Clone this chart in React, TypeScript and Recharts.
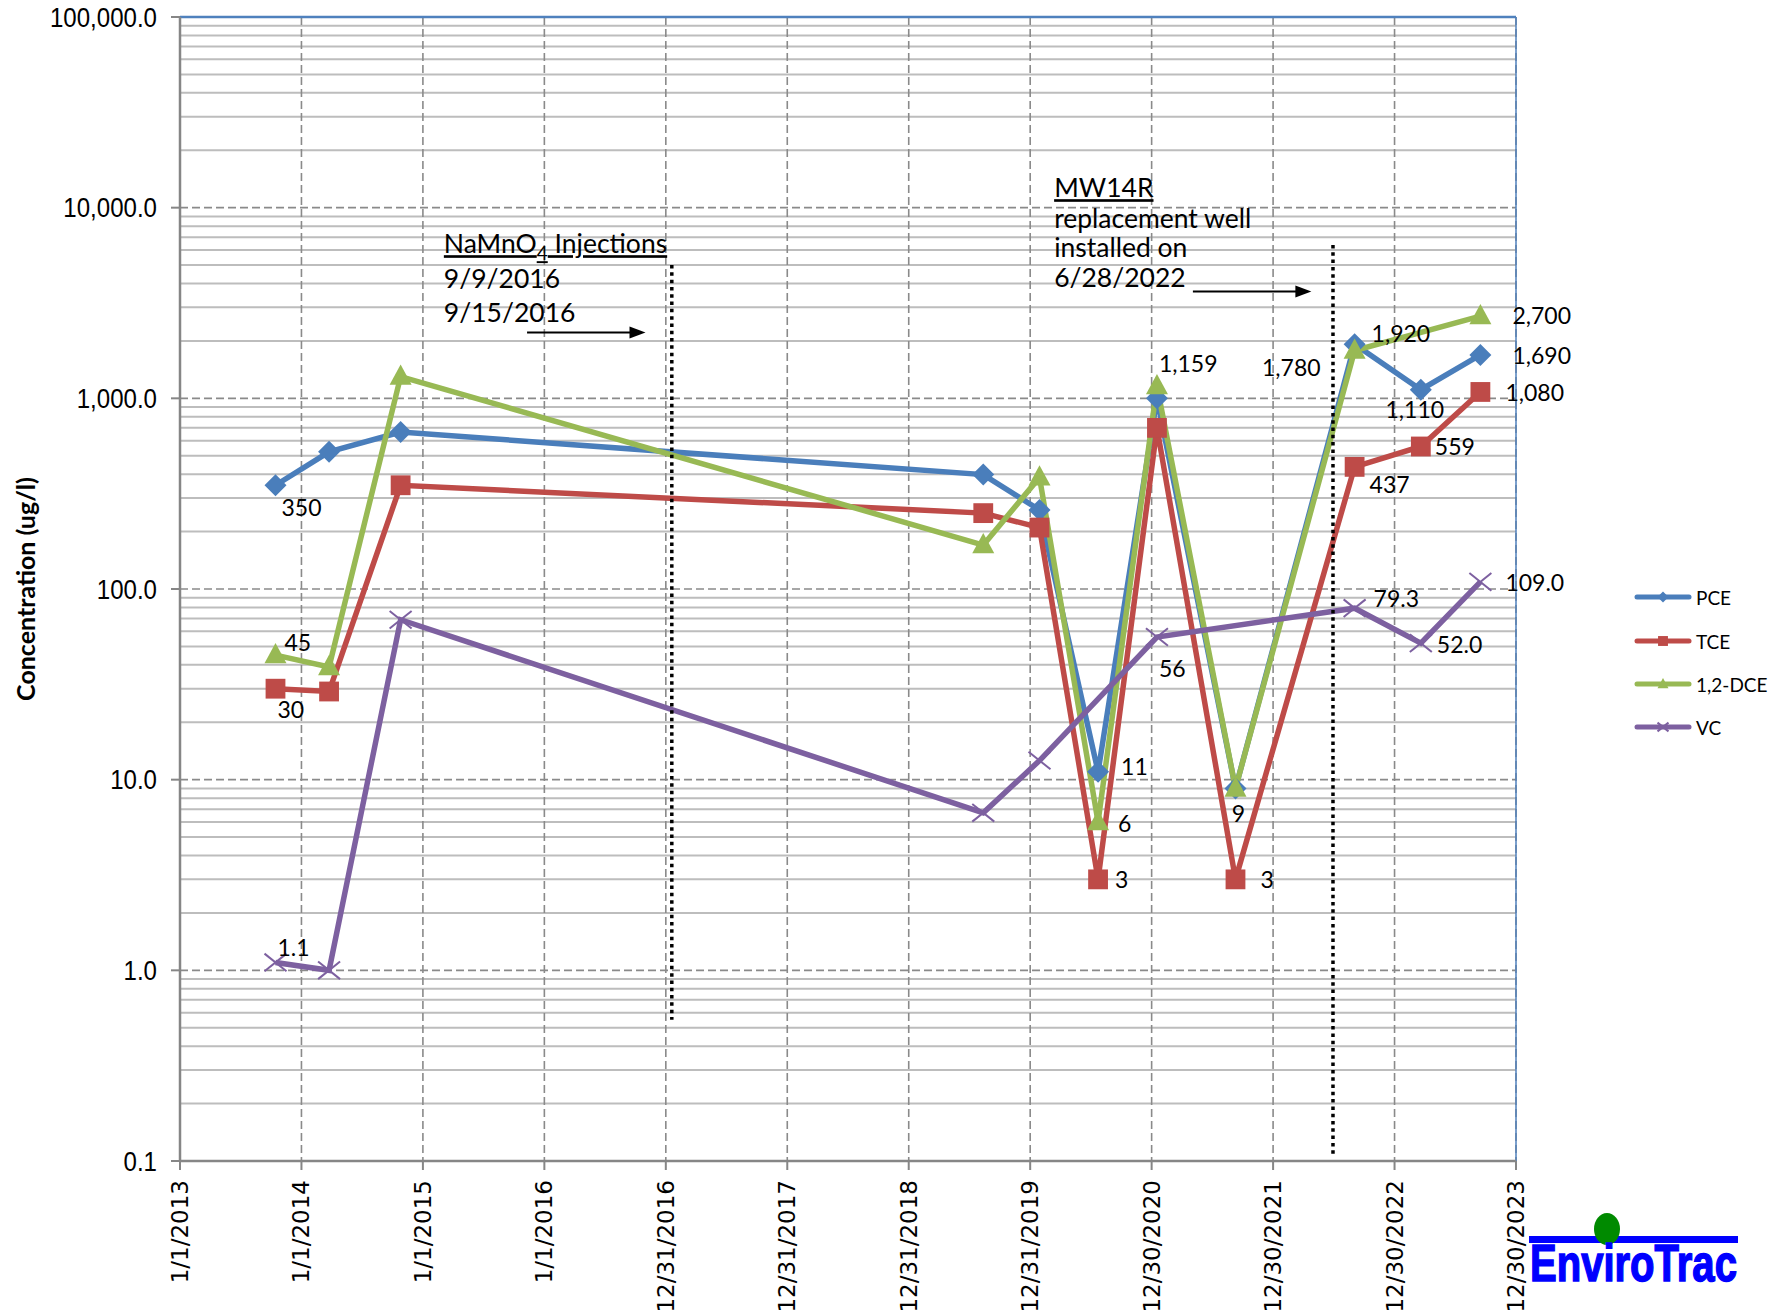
import React from 'react';
import {
  LineChart,
  Line,
  XAxis,
  YAxis,
  CartesianGrid,
  ReferenceLine,
  ReferenceDot,
  LabelList,
} from 'recharts';

// sample dates (M/D/YYYY)
const sampleDates = [
  '10/15/2013', '3/25/2014', '10/26/2014', '8/12/2019', '1/28/2020', '7/22/2020',
  '1/15/2021', '9/8/2021', '9/1/2022', '3/19/2023', '9/14/2023',
];

const pceValues = [350, 524, 665, 398, 260, 11, 1000, 9, 1920, 1110, 1690];
const tceValues = [30, 29, 350, 250, 210, 3, 700, 3, 437, 559, 1080];
const dceValues = [45, 39, 1300, 170, 385, 6, 1159, 9, 1780, null, 2700];
const vcValues = [1.1, 1.0, 69, 6.7, 12.6, null, 56, null, 79.3, 52.0, 109.0];

const pceLabels = ['350', null, null, null, null, '11', null, null, '1,920', '1,110', '1,690'];
const tceLabels = ['30', null, null, null, null, '3', null, '3', '437', '559', '1,080'];
const dceLabels = ['45', null, null, null, null, '6', '1,159', '9', '1,780', null, '2,700'];
const vcLabels = ['1.1', null, null, null, null, null, '56', null, '79.3', '52.0', '109.0'];

const xTickLabels = [
  '1/1/2013', '1/1/2014', '1/1/2015', '1/1/2016', '12/31/2016', '12/31/2017',
  '12/31/2018', '12/31/2019', '12/30/2020', '12/30/2021', '12/30/2022', '12/30/2023',
];
const yTickValues = [0.1, 1, 10, 100, 1000, 10000, 100000];

// label placement per point: [anchor, dx, dy] in px
type Off = [string, number, number] | null;
const pceLabelPos: Off[] = [['start', 6, 22], null, null, null, null, ['start', 23, -6], null, null, ['start', 17, -11], ['middle', -6, 19], ['start', 32, 0]];
const tceLabelPos: Off[] = [['start', 2, 20], null, null, null, null, ['start', 17, 0], null, ['start', 25, 0], ['start', 15, 17], ['start', 14, 0], ['start', 25, 0]];
const dceLabelPos: Off[] = [['start', 9, -13], null, null, null, null, ['start', 20, 1], ['start', 2, -23], ['middle', 3, 25], ['end', -34, 16], null, ['start', 32, -1]];
const vcLabelPos: Off[] = [['start', 2, -15], null, null, null, null, null, ['start', 2, 31], null, ['start', 19, -10], ['start', 16, 1], ['start', 25, 0]];

const ORIGIN = Date.UTC(2013, 0, 1);
const toDay = (s: string) => {
  const [m, d, y] = s.split('/').map(Number);
  return (Date.UTC(y, m - 1, d) - ORIGIN) / 86400000;
};

const xTicks = xTickLabels.map(toDay);
const sampleDays = sampleDates.map(toDay);
const xMax = xTicks[xTicks.length - 1];
const minorXTicks: number[] = [];
for (let i = 0; i <= xMax; i += 73) minorXTicks.push(i);

const minorYValues: number[] = [];
for (let d = -1; d <= 4; d++) {
  for (let k = 2; k <= 9; k++) minorYValues.push(Number((k * Math.pow(10, d)).toPrecision(3)));
}

const buildSeries = (values: (number | null)[], labels: (string | null)[], pos: Off[]) =>
  sampleDays
    .map((x, i) => ({ x, y: values[i], label: labels[i], pos: pos[i] }))
    .filter((p) => p.y != null);

const series = [
  { name: 'PCE', color: '#4a7ebb', marker: 'diamond', data: buildSeries(pceValues, pceLabels, pceLabelPos) },
  { name: 'TCE', color: '#be4b48', marker: 'square', data: buildSeries(tceValues, tceLabels, tceLabelPos) },
  { name: '1,2-DCE', color: '#98b954', marker: 'triangle', data: buildSeries(dceValues, dceLabels, dceLabelPos) },
  { name: 'VC', color: '#7d60a0', marker: 'x', data: buildSeries(vcValues, vcLabels, vcLabelPos) },
];

const fmtY = (v: number) =>
  v.toLocaleString('en-US', { minimumFractionDigits: 1, maximumFractionDigits: 1 });

function Marker({ kind, cx, cy, color, s }: any) {
  if (kind === 'diamond') {
    return <polygon points={`${cx},${cy - s} ${cx + s},${cy} ${cx},${cy + s} ${cx - s},${cy}`} fill={color} />;
  }
  if (kind === 'square') {
    return <rect x={cx - s * 0.9} y={cy - s * 0.9} width={s * 1.8} height={s * 1.8} fill={color} />;
  }
  if (kind === 'triangle') {
    return <polygon points={`${cx},${cy - s * 1.1} ${cx + s},${cy + s * 0.75} ${cx - s},${cy + s * 0.75}`} fill={color} />;
  }
  return (
    <g stroke={color} strokeWidth={2}>
      <line x1={cx - s} y1={cy - s * 0.8} x2={cx + s} y2={cy + s * 0.8} />
      <line x1={cx - s} y1={cy + s * 0.8} x2={cx + s} y2={cy - s * 0.8} />
    </g>
  );
}

function XTick(props: any) {
  const { x, y, payload } = props;
  const i = xTicks.indexOf(payload.value);
  return (
    <text
      transform={`translate(${x},${y + 8}) rotate(-90)`}
      textAnchor="end"
      dominantBaseline="central"
      fontFamily="'DejaVu Sans'"
      fontSize={23}
      fill="#000"
    >
      {xTickLabels[i]}
    </text>
  );
}

function YTick(props: any) {
  const { x, y, payload } = props;
  return (
    <text
      transform={`translate(${x - 12},${y}) scale(0.86,1)`}
      textAnchor="end"
      dominantBaseline="central"
      fontFamily="'Liberation Sans Narrow', 'Liberation Sans'"
      fontSize={28}
      fill="#000"
    >
      {fmtY(payload.value)}
    </text>
  );
}

const makeLabel = (data: any[]) => (props: any) => {
  const p = data[props.index];
  if (!p || !p.label || !p.pos) return null;
  const vb = props.viewBox || {};
  const px = props.x ?? vb.x;
  const py = props.y ?? vb.y;
  const [anchor, dx, dy] = p.pos;
  return (
    <text
      x={px + dx}
      y={py + dy}
      textAnchor={anchor}
      dominantBaseline="central"
      fontFamily="Lato"
      fontSize={23}
      fill="#000"
    >
      {p.label}
    </text>
  );
};

function Arrow(props: any) {
  const { x1, y1, x2, y2 } = props;
  return (
    <g>
      <line x1={x1} y1={y1} x2={x2 - 14} y2={y2} stroke="#000" strokeWidth={2} />
      <polygon points={`${x2},${y2} ${x2 - 16},${y2 - 6} ${x2 - 16},${y2 + 6}`} fill="#000" />
    </g>
  );
}

const annoFont = { fontFamily: 'Lato', fontSize: 26.5, fill: '#000' };

function InjectionNote({ cx, cy }: any) {
  return (
    <g>
      <text x={cx} y={cy} {...annoFont} textDecoration="underline">
        NaMnO
        <tspan dy={7} fontSize={19}>4</tspan>
        <tspan dy={-7}> Injections</tspan>
      </text>
      <text x={cx} y={cy + 35} {...annoFont}>9/9/2016</text>
      <text x={cx} y={cy + 69} {...annoFont}>9/15/2016</text>
    </g>
  );
}

function WellNote({ cx, cy }: any) {
  return (
    <g>
      <text x={cx} y={cy} {...annoFont} textDecoration="underline">MW14R</text>
      <text x={cx} y={cy + 31} {...annoFont}>replacement well</text>
      <text x={cx} y={cy + 60} {...annoFont}>installed on</text>
      <text x={cx} y={cy + 90} {...annoFont}>6/28/2022</text>
    </g>
  );
}

const axisColor = '#868686';
const frameColor = '#4f81bd';

export default function App() {
  const legendY = [597, 641, 684, 727];
  return (
    <div style={{ position: 'absolute', left: 0, top: 0, width: 1785, height: 1312, background: '#fff' }}>
      <LineChart
        width={1785}
        height={1312}
        margin={{ top: 17, right: 269, left: 0, bottom: 0 }}
      >
        <CartesianGrid
          horizontalValues={minorYValues}
          vertical={false}
          stroke="#bdbdbd"
          strokeWidth={2}
        />
        <CartesianGrid
          horizontalValues={yTickValues}
          verticalValues={xTicks}
          stroke="#8a8a8a"
          strokeWidth={1.6}
          strokeDasharray="8 4"
        />
        <XAxis
          type="number"
          dataKey="x"
          domain={[0, xMax]}
          ticks={xTicks}
          interval={0}
          height={151}
          tickSize={9}
          axisLine={{ stroke: axisColor, strokeWidth: 2.5 }}
          tickLine={{ stroke: axisColor, strokeWidth: 2 }}
          tick={<XTick />}
          allowDataOverflow
        />
        <XAxis
          xAxisId="minor"
          type="number"
          dataKey="x"
          domain={[0, xMax]}
          ticks={minorXTicks}
          interval={0}
          mirror
          tickSize={6}
          tick={false}
          axisLine={false}
          tickLine={{ stroke: axisColor, strokeWidth: 1.5 }}
          allowDataOverflow
        />
        <YAxis
          type="number"
          scale="log"
          domain={[0.1, 100000]}
          ticks={yTickValues}
          interval={0}
          width={180}
          tickSize={9}
          allowDataOverflow
          axisLine={{ stroke: axisColor, strokeWidth: 2.5 }}
          tickLine={{ stroke: axisColor, strokeWidth: 2 }}
          tick={<YTick />}
          label={{
            content: (p: any) => {
              const vb = p.viewBox || { x: 0, y: 17, height: 1144 };
              const cx = vb.x + 25;
              const cy = vb.y + vb.height / 2;
              return (
                <text
                  transform={`translate(${cx},${cy}) rotate(-90)`}
                  textAnchor="middle"
                  dominantBaseline="central"
                  fontFamily="Lato"
                  fontWeight={700}
                  fontSize={25}
                  fill="#000"
                >
                  Concentration (ug/l)
                </text>
              );
            },
          }}
        />
        <ReferenceLine y={100000} stroke={frameColor} strokeWidth={2.5} />
        <ReferenceLine x={xMax} stroke={frameColor} strokeWidth={1.5} />

        {series.map((s) => (
          <Line
            key={s.name}
            name={s.name}
            data={s.data}
            dataKey="y"
            type="linear"
            stroke={s.color}
            strokeWidth={5.5}
            isAnimationActive={false}
            activeDot={false}
            dot={(p: any) =>
              p.cx == null || p.cy == null ? (
                <g key={`${s.name}-${p.index}`} />
              ) : (
                <Marker key={`${s.name}-${p.index}`} kind={s.marker} cx={p.cx} cy={p.cy} color={s.color} s={11} />
              )
            }
          >
            <LabelList dataKey="label" content={makeLabel(s.data)} />
          </Line>
        ))}

        <ReferenceLine
          segment={[{ x: 1478, y: 5000 }, { x: 1478, y: 0.55 }]}
          stroke="#000"
          strokeWidth={3.5}
          strokeDasharray="3.5 3.8"
        />
        <ReferenceLine
          segment={[{ x: 3465, y: 6370 }, { x: 3465, y: 0.107 }]}
          stroke="#000"
          strokeWidth={3.5}
          strokeDasharray="3.5 3.8"
        />
        <ReferenceLine segment={[{ x: 1043, y: 2213 }, { x: 1399, y: 2213 }]} shape={Arrow} />
        <ReferenceLine segment={[{ x: 3044, y: 3631 }, { x: 3400, y: 3631 }]} shape={Arrow} />
        <ReferenceDot x={793} y={5770} shape={(p: any) => <InjectionNote cx={p.cx} cy={p.cy} />} />
        <ReferenceDot x={2627} y={11350} shape={(p: any) => <WellNote cx={p.cx} cy={p.cy} />} />
      </LineChart>

      <svg
        width={1785}
        height={1312}
        style={{ position: 'absolute', left: 0, top: 0, pointerEvents: 'none' }}
      >
        {series.map((s, i) => (
          <g key={s.name}>
            <line x1={1637} y1={legendY[i]} x2={1689} y2={legendY[i]} stroke={s.color} strokeWidth={5} strokeLinecap="round" />
            <Marker kind={s.marker} cx={1663} cy={legendY[i]} color={s.color} s={5.5} />
            <text x={1696} y={legendY[i]} dominantBaseline="central" fontFamily="Lato" fontSize={19} fill="#000">
              {s.name}
            </text>
          </g>
        ))}
        <rect x={1529} y={1236} width={209} height={7} fill="#0000ff" />
        <ellipse cx={1607} cy={1229} rx={13} ry={16} fill="#008a00" />
        <text
          transform="translate(1530,1281) scale(0.77,1)"
          fontFamily="'Liberation Sans'"
          fontWeight={700}
          fontSize={52}
          stroke="#0000ff"
          strokeWidth={1.5}
          fill="#0000ff"
        >
          EnviroTrac
        </text>
      </svg>
    </div>
  );
}
